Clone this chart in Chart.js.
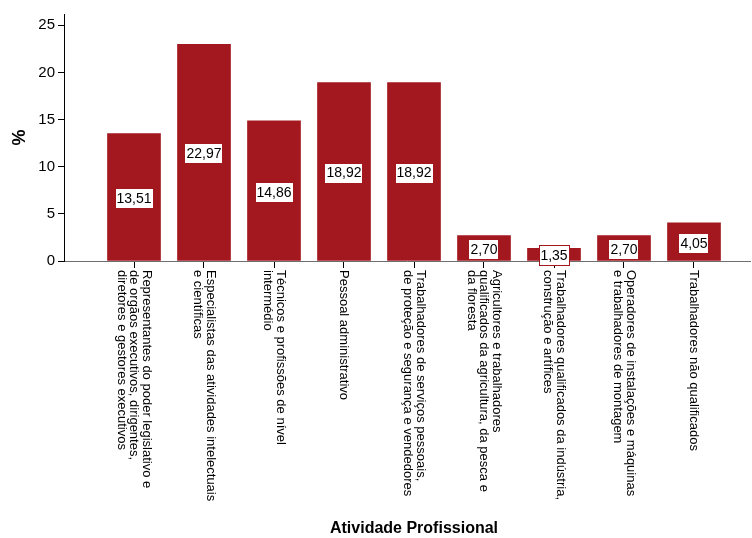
<!DOCTYPE html>
<html>
<head>
<meta charset="utf-8">
<title>Atividade Profissional</title>
<script src="https://cdn.jsdelivr.net/npm/chart.js@4.4.1/dist/chart.umd.min.js"></script>
<style>
  html, body { margin: 0; padding: 0; background: #fff; }
  canvas { display: block; }
</style>
</head>
<body>
<canvas id="chart" width="752" height="538"></canvas>
<script>
// Categorias (uma entrada por barra, cada linha do rótulo em separado)
const categorias = [
    ['Representantes do poder legislativo e', 'de orgãos executivos, dirigentes,', 'diretores e gestores executivos'],
    ['Especialistas das atividades intelectuais', 'e científicas'],
    ['Técnicos e profissões de nível', 'intermédio'],
    ['Pessoal administrativo'],
    ['Trabalhadores de serviços pessoais,', 'de proteção e segurança e vendedores'],
    ['Agricultores e trabalhadores', 'qualificados da agricultura, da pesca e', 'da floresta'],
    ['Trabalhadores qualificados da indústria,', 'construção e artífices'],
    ['Operadores de instalações e máquinas', 'e trabalhadores de montagem'],
    ['Trabalhadores não qualificados']
];
const percentagens = [13.51, 22.97, 14.86, 18.92, 18.92, 2.70, 1.35, 2.70, 4.05];
const yTicks = [0, 5, 10, 15, 20, 25];
const tituloX = 'Atividade Profissional';
const tituloY = '%';

const corBarra = '#a3171e';
const fonte = '"Liberation Sans", Arial, sans-serif';
Chart.defaults.font.family = fonte;
Chart.defaults.color = '#000';

// Rótulos das categorias rodados 90° (leitura de cima para baixo) e título do eixo X
const rotulosCategorias = {
    id: 'rotulosCategorias',
    afterDraw(chart) {
        const ctx = chart.ctx;
        const x = chart.scales.x;
        const topo = chart.chartArea.bottom + 9;
        const entreLinhas = 12.5;
        ctx.save();
        ctx.fillStyle = '#000';
        ctx.font = '13px ' + fonte;
        ctx.textAlign = 'left';
        ctx.textBaseline = 'middle';
        categorias.forEach((linhas, i) => {
            ctx.save();
            ctx.translate(x.getPixelForValue(i), topo);
            ctx.rotate(Math.PI / 2);
            linhas.forEach((t, k) => {
                ctx.fillText(t, 0, (k - (linhas.length - 1) / 2) * entreLinhas);
            });
            ctx.restore();
        });
        ctx.font = 'bold 16px ' + fonte;
        ctx.textAlign = 'center';
        ctx.fillText(tituloX, x.getPixelForValue((categorias.length - 1) / 2), 529);
        ctx.restore();
    }
};

// Caixas brancas com o valor a meio de cada barra
const caixasValores = {
    id: 'caixasValores',
    afterDatasetsDraw(chart) {
        const ctx = chart.ctx;
        const meta = chart.getDatasetMeta(0);
        ctx.save();
        ctx.font = '14px ' + fonte;
        ctx.textAlign = 'center';
        ctx.textBaseline = 'middle';
        meta.data.forEach((bar, i) => {
            const txt = percentagens[i].toFixed(2).replace('.', ',');
            const cy = (bar.y + bar.base) / 2 + 1.5;
            const w = Math.round(ctx.measureText(txt).width + 4);
            const h = 21;
            const x0 = Math.round(bar.x - w / 2);
            const y0 = Math.round(cy - h / 2);
            ctx.fillStyle = '#fff';
            ctx.fillRect(x0, y0, w, h);
            ctx.strokeStyle = corBarra;
            ctx.lineWidth = 1;
            ctx.strokeRect(x0 + 0.5, y0 + 0.5, w - 1, h - 1);
            ctx.fillStyle = '#000';
            ctx.fillText(txt, bar.x, cy + 0.5);
        });
        ctx.restore();
    }
};

new Chart(document.getElementById('chart'), {
    type: 'bar',
    data: {
        datasets: [{
            data: percentagens.map((v, i) => ({ x: i, y: v })),
            backgroundColor: corBarra,
            barThickness: 53
        }]
    },
    options: {
        responsive: false,
        animation: false,
        devicePixelRatio: 1,
        layout: { padding: { top: 14, right: 2, left: 0, bottom: 0 } },
        plugins: {
            legend: { display: false },
            tooltip: { enabled: false }
        },
        scales: {
            x: {
                type: 'linear',
                min: -1,
                max: 8.8,
                offset: false,
                afterBuildTicks: s => { s.ticks = categorias.map((_, i) => ({ value: i })); },
                afterFit: s => { s.height = 277; },
                ticks: { display: false },
                grid: { offset: false, drawOnChartArea: false, drawTicks: true, tickLength: 7, color: '#000' },
                border: { color: '#6e6e6e', width: 1 }
            },
            y: {
                min: 0,
                max: 26.2,
                afterBuildTicks: s => { s.ticks = yTicks.map(v => ({ value: v })); },
                afterFit: s => { s.width = 64; },
                ticks: { font: { size: 15 }, color: '#000', padding: 3 },
                grid: { drawOnChartArea: false, drawTicks: true, tickLength: 6, color: '#000' },
                border: { color: '#000', width: 1 },
                title: {
                    display: true,
                    text: tituloY,
                    color: '#000',
                    font: { size: 18, weight: 'bold' },
                    padding: { top: 9, bottom: 0 }
                }
            }
        }
    },
    plugins: [rotulosCategorias, caixasValores]
});
</script>
</body>
</html>
